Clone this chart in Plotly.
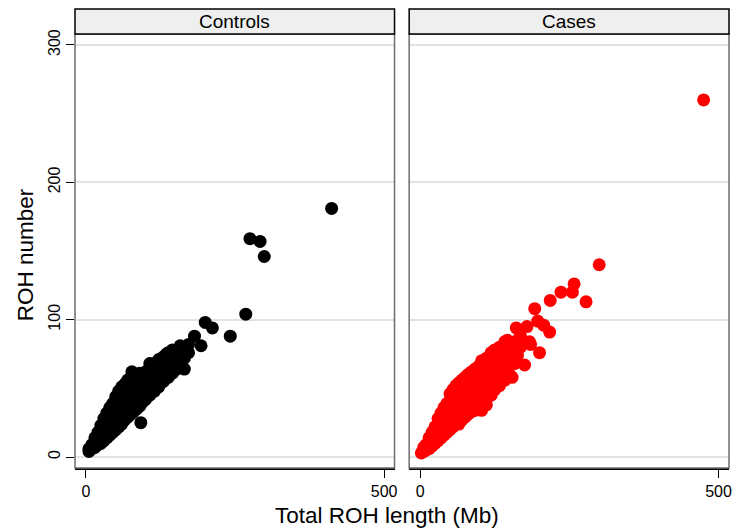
import plotly.graph_objects as go

# ---- data ----
controls_x = [5,5,10,10,15,15,15,20,20,20,25,25,25,25,30,30,30,30,35,35,35,35,
              40,40,40,40,45,45,45,45,50,50,50,50,50,55,55,55,55,55,60,60,60,60,60,
              62,65,65,65,65,65,70,70,70,70,70,75,75,75,75,77,80,80,80,80,80,
              85,85,85,85,90,90,90,90,90,92,95,95,95,95,100,100,100,100,
              107,107,107,107,107,115,115,115,115,122,122,122,122,130,130,130,130,
              135,138,138,138,138,145,145,145,145,152,152,152,158,160,160,160,
              165,165,165,172,172,182,193,200,212,242,268,275,292,299,412]
controls_y = [4,6,6,9,7,11,14,9,14,18,10,15,20,23,12,18,24,28,14,20,26,32,
              16,23,30,36,18,25,32,39,20,27,34,41,44,22,30,37,44,48,24,32,40,47,51,
              28,27,34,42,49,53,29,36,44,51,56,31,38,46,53,62,33,40,48,55,58,
              35,42,50,57,37,44,51,58,61,25,40,47,54,60,42,49,56,62,
              45,52,59,65,68,48,55,62,68,51,58,65,71,55,62,68,73,
              75,58,65,71,76,61,68,74,78,64,71,77,81,68,74,79,
              64,72,78,76,82,88,81,98,94,88,104,159,157,146,181]

cases_x = [2,6,6,10,10,15,15,15,20,20,20,25,25,25,30,30,30,30,35,35,35,35,
           40,40,40,40,45,45,45,45,50,50,50,50,50,55,55,55,55,55,60,60,60,60,60,
           65,65,65,65,65,70,70,70,70,70,75,75,75,75,75,80,80,80,80,80,
           86,86,86,86,86,92,92,92,92,92,98,98,98,98,98,103,103,103,103,103,
           111,111,111,111,111,119,119,119,119,119,125,125,125,125,125,130,
           133,133,133,133,133,142,142,142,142,142,146,150,150,150,150,154,
           158,158,158,161,163,168,168,175,179,183,185,192,197,200,207,217,218,
           236,255,258,278,300,475]
cases_y = [3,4,7,5,9,6,11,14,8,13,18,10,16,22,12,18,24,28,14,20,27,32,
           16,23,30,36,18,25,32,39,20,27,34,41,46,22,29,36,43,49,24,31,38,45,52,
           24,32,40,47,54,27,34,42,49,56,29,36,44,51,58,31,38,46,53,60,
           33,40,48,55,62,34,42,50,57,64,36,44,52,59,66,34,46,54,62,70,
           38,48,56,64,72,45,52,60,68,76,49,56,64,72,78,56,
           52,60,68,76,80,56,63,71,79,84,85,60,67,75,82,58,
           68,76,84,94,74,80,88,67,95,84,82,108,99,76,96,91,114,
           120,120,126,113,140,260]

panels = ["Controls", "Cases"]
colors = ["#000000", "#ff0000"]
y_ticks = [0, 100, 200, 300]
x_ticks = [0, 500]

W, H = 735, 529
ml, mr, mt, mb = 75, 3, 34, 61
pw, ph = W - ml - mr, H - mt - mb

def px_x(p):
    return (p - ml) / pw

def px_y(p):
    return (H - mb - p) / ph

fig = go.Figure()
fig.add_trace(go.Scatter(x=controls_x, y=controls_y, mode="markers",
                         marker=dict(size=13, color=colors[0]),
                         xaxis="x", yaxis="y", showlegend=False))
fig.add_trace(go.Scatter(x=cases_x, y=cases_y, mode="markers",
                         marker=dict(size=13, color=colors[1]),
                         xaxis="x2", yaxis="y2", showlegend=False))

dom1 = [0, px_x(396)]
dom2 = [px_x(410.7), 1]

xcommon = dict(range=[-18.4, 517.5], tickvals=x_ticks, ticks="outside", ticklen=8,
               tickcolor="#000", tickwidth=1, showgrid=False, zeroline=False,
               showline=True, linecolor="#000", linewidth=1.5,
               tickfont=dict(size=16, color="#000"))
ycommon = dict(range=[-8, 308], tickvals=y_ticks, showgrid=True,
               gridcolor="#e2e2e2", gridwidth=1.5, zeroline=False)

fig.update_layout(
    width=W, height=H,
    margin=dict(l=ml, r=mr, t=mt, b=mb),
    paper_bgcolor="white", plot_bgcolor="white",
    font=dict(family="Liberation Sans, Arial, sans-serif", color="#000"),
    xaxis=dict(domain=dom1, anchor="y", **xcommon),
    xaxis2=dict(domain=dom2, anchor="y2", **xcommon),
    yaxis=dict(domain=[0, 1], anchor="x", ticks="outside", ticklen=8,
               tickcolor="#000", tickangle=-90, tickfont=dict(size=16, color="#000"),
               showline=False, **ycommon),
    yaxis2=dict(domain=[0, 1], anchor="x2", showticklabels=False, ticks="",
                showline=False, **ycommon),
)

shapes = []
annotations = []
strip_top = px_y(9)
for dom, name in zip([dom1, dom2], panels):
    # plot frame
    shapes.append(dict(type="rect", xref="paper", yref="paper",
                       x0=dom[0], x1=dom[1], y0=0, y1=1,
                       line=dict(color="#6e6e6e", width=1.5), layer="above"))
    # header strip
    shapes.append(dict(type="rect", xref="paper", yref="paper",
                       x0=dom[0], x1=dom[1], y0=1, y1=strip_top,
                       fillcolor="#efefef", line=dict(color="#000", width=1.5)))
    annotations.append(dict(text=name, xref="paper", yref="paper",
                            x=(dom[0] + dom[1]) / 2, y=(1 + strip_top) / 2,
                            showarrow=False, xanchor="center", yanchor="middle",
                            font=dict(size=19, color="#000")))

annotations.append(dict(text="Total ROH length (Mb)", xref="paper", yref="paper",
                        x=px_x(388), y=px_y(515), showarrow=False,
                        xanchor="center", yanchor="middle",
                        font=dict(size=22.5, color="#000")))
annotations.append(dict(text="ROH number", xref="paper", yref="paper",
                        x=px_x(26), y=px_y(255), showarrow=False, textangle=-90,
                        xanchor="center", yanchor="middle",
                        font=dict(size=22.5, color="#000")))

fig.update_layout(shapes=shapes, annotations=annotations)
fig.write_html("out.html")
